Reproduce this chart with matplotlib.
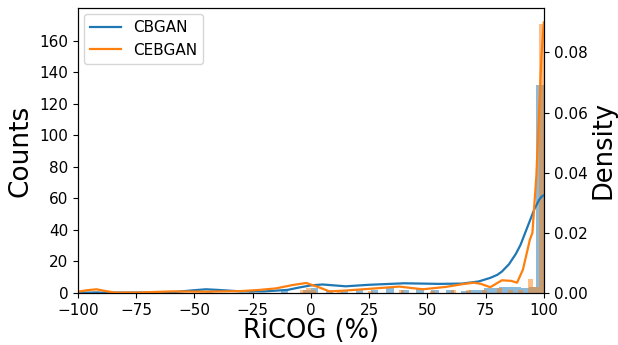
import numpy as np
import matplotlib
matplotlib.use("Agg")
import matplotlib.pyplot as plt

# ---- data ----
# histogram counts (non-empty bins: bin centre -> count)
cb_hist_x = [-43.5, -11.3, -1.6, 1.6, 8.1, 14.5, 21.0, 27.4, 33.9, 40.3, 46.8, 53.2,
             59.7, 66.1, 69.4, 72.6, 75.8, 79.0, 82.3, 85.5, 88.7, 91.9, 95.2, 98.4]
cb_hist_n = [1, 1, 2, 3, 2, 1, 2, 2, 3, 2, 3, 2,
             2, 1, 2, 2, 3, 3, 4, 4, 4, 3, 4, 132]
ceb_hist_x = [-92.2, -60.0, -25.6, -3.3, -1.1, 1.1, 12.2, 25.6, 38.9, 52.2, 60.0,
              67.8, 74.4, 81.1, 85.6, 89.9, 93.9, 96.1, 98.9]
ceb_hist_n = [1, 1, 1, 2, 3, 2, 1, 1, 2, 1, 2,
              2, 2, 3, 2, 2, 9, 4, 171]

# kernel density curves
cb_kde_x = [-100, -80, -60, -50, -45, -40, -30, -20, -10, -5, 0, 5, 10, 15, 25, 40,
            55, 65, 72, 77, 80, 82, 85, 88, 90, 92, 94, 96, 98, 99, 100]
cb_kde_y = [0.0001, 0.0001, 0.0002, 0.0009, 0.0012, 0.0010, 0.0005, 0.0005, 0.0010,
            0.0018, 0.0025, 0.0028, 0.0025, 0.0022, 0.0027, 0.0032, 0.0030, 0.0031,
            0.0038, 0.0050, 0.0060, 0.0071, 0.0095, 0.0130, 0.0160, 0.0200, 0.0240,
            0.0280, 0.0310, 0.0320, 0.0325]
ceb_kde_x = [-100, -96, -92, -88, -84, -75, -60, -45, -30, -22, -15, -8, -2, 3, 8,
             15, 24, 31, 38, 48, 58, 65, 70, 73, 77, 82, 86, 88.5, 91, 93, 94,
             95.1, 96.8, 97.9, 99, 100]
ceb_kde_y = [0.0004, 0.0009, 0.0012, 0.0006, 0.0001, 0.0001, 0.0005, 0.0004, 0.0006,
             0.0010, 0.0015, 0.0026, 0.0033, 0.0020, 0.0005, 0.0008, 0.0013, 0.0017,
             0.0021, 0.0012, 0.0020, 0.0029, 0.0034, 0.0030, 0.0019, 0.0042, 0.0040,
             0.0034, 0.0077, 0.0143, 0.0177, 0.0200, 0.0390, 0.0590, 0.0790, 0.0900]

labels = ["CBGAN", "CEBGAN"]
x_ticks = [-100, -75, -50, -25, 0, 25, 50, 75, 100]

# ---- figure ----
fig = plt.figure(figsize=(6.18, 3.45), dpi=100)
ax = fig.add_axes([0.126, 0.151, 0.754, 0.826])
ax2 = ax.twinx()

blue, orange = "#1f77b4", "#ff7f0e"
cb_edges = np.linspace(-100, 100, 63)
ceb_edges = np.linspace(-100, 100, 91)
ax.hist(cb_hist_x, bins=cb_edges, weights=cb_hist_n, color=blue, alpha=0.5, linewidth=0)
ax.hist(ceb_hist_x, bins=ceb_edges, weights=ceb_hist_n, color=orange, alpha=0.5, linewidth=0)

ax2.plot(cb_kde_x, cb_kde_y, color=blue, lw=1.6, label=labels[0])
ax2.plot(ceb_kde_x, ceb_kde_y, color=orange, lw=1.6, label=labels[1])

ax.set_xlim(-100, 100)
ax.set_ylim(0, 181)
ax2.set_ylim(0, 0.0948)
ax.set_xticks(x_ticks)
ax.set_yticks(range(0, 161, 20))
ax2.set_yticks([0.0, 0.02, 0.04, 0.06, 0.08])
ax2.set_yticklabels(["0.00", "0.02", "0.04", "0.06", "0.08"])
ax.tick_params(labelsize=11)
ax2.tick_params(labelsize=11)

ax.set_xlabel("RiCOG (%)", fontsize=18.5, labelpad=0)
ax.set_ylabel("Counts", fontsize=19, labelpad=4)
ax2.set_ylabel("Density", fontsize=18.5, labelpad=2)

ax2.legend(loc="upper left", fontsize=11, borderaxespad=0.4)

fig.savefig("out.png", dpi=100)
